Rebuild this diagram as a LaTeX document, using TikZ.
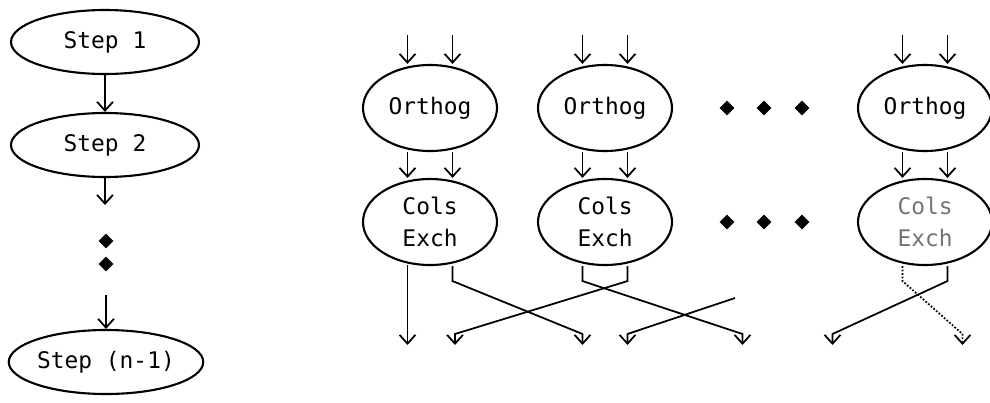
\documentclass[tikz,border=0pt]{standalone}
\usepackage{fontspec}
\newfontfamily\plotfont{DejaVu Sans Mono}
\usetikzlibrary{arrows.meta}
\usetikzlibrary{shapes.geometric}
\tikzset{
  oval/.style={ellipse, draw, line width=1.2pt, inner sep=0pt, align=center,
    font=\plotfont\fontsize{13}{18}\selectfont},
  stepoval/.style={oval, minimum width=3.76cm, minimum height=1.28cm},
  taskoval/.style={oval, minimum width=2.68cm, minimum height=1.72cm},
  flow/.style={line width=1pt, -{Straight Barb[length=5pt,width=9pt]}},
  dot/.style={diamond, fill, inner sep=0pt, minimum size=0.3cm}
}

\begin{document}
\begin{tikzpicture}
      \useasboundingbox (0, 0) rectangle (19.8, 8.04);

      % sequential steps
      \node [stepoval] (s1) at (2.1, 7.2) {Step 1};
      \node [stepoval] (s2) at (2.1, 5.14) {Step 2};
      \node [stepoval] (sn) at (2.12, 0.8) {Step (n-1)};
      \coordinate (s2out) at (2.1, 3.94);
      \coordinate (snin) at (2.12, 2.14);
      \node [dot] (d1) at (2.12, 3.22) {};
      \node [dot] (d2) at (2.12, 2.76) {};

      \draw [flow] (s1) -- (s2);
      \draw [flow] (s2) -- (s2out);
      \draw [flow] (snin) -- (sn);

      % parallel columns
      \foreach \name/\x in {a/8.6, b/12.1, c/18.5} {
        \node [taskoval] (o\name) at (\x, 5.88) {Orthog};
        \coordinate (in\name) at (\x, 7.34);
        \draw [flow] ([xshift=-0.45cm]in\name) -- ([xshift=-0.45cm]o\name.north);
        \draw [flow] ([xshift=0.45cm]in\name) -- ([xshift=0.45cm]o\name.north);
      }
      \node [taskoval] (ca) at (8.6, 3.6) {Cols\\Exch};
      \node [taskoval] (cb) at (12.1, 3.6) {Cols\\Exch};
      \node [taskoval, text=black!55] (cc) at (18.5, 3.6) {Cols\\Exch};
      \foreach \name in {a, b, c} {
        \draw [flow] ([xshift=-0.45cm]o\name.south) -- ([xshift=-0.45cm]c\name.north);
        \draw [flow] ([xshift=0.45cm]o\name.south) -- ([xshift=0.45cm]c\name.north);
      }

      \foreach \y [count=\i] in {5.88, 3.6} {
        \node [dot] (ra\i) at (14.54, \y) {};
        \node [dot] (rb\i) at (15.28, \y) {};
        \node [dot] (rc\i) at (16.04, \y) {};
      }

      % exchanged outputs
      \foreach \x [count=\i] in {8.15, 9.1, 11.65, 12.55, 14.85, 16.65, 19.25}
        \coordinate (b\i) at (\x, 1.14);
      \coordinate (free) at (14.7, 2.08);

      \draw [flow] ([xshift=-0.45cm]ca.south) -- (ca.south -| b1) -- (b1);
      \draw [flow] ([xshift=0.45cm]ca.south) -- +(0, -0.3) -- ([yshift=0.22cm]b3) -- (b3);
      \draw [flow] ([xshift=-0.45cm]cb.south) -- +(0, -0.3) -- ([yshift=0.22cm]b5) -- (b5);
      \draw [flow] ([xshift=0.45cm]cb.south) -- +(0, -0.3) -- ([yshift=0.22cm]b2) -- (b2);
      \draw [flow] (free) -- ([yshift=0.22cm]b4) -- (b4);
      \draw [flow] ([xshift=0.45cm]cc.south) -- +(0, -0.3) -- ([yshift=0.22cm]b6) -- (b6);
      \draw [flow, densely dotted] ([xshift=-0.45cm]cc.south) -- +(0, -0.3) -- ([yshift=0.22cm]b7) -- (b7);
\end{tikzpicture}
\end{document}
